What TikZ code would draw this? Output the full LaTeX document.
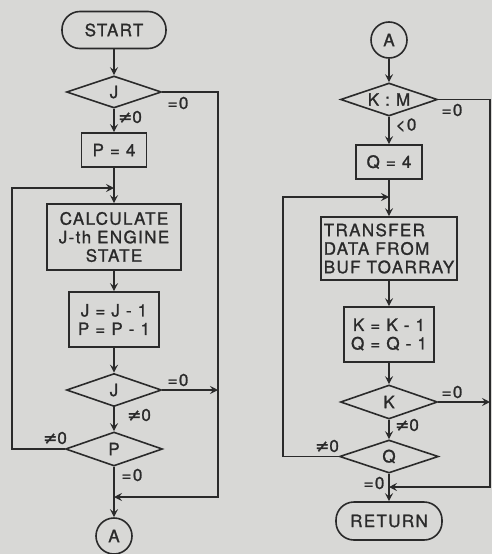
\documentclass[tikz,border=0pt]{standalone}
\usepackage{fontspec}
\setmainfont[LetterSpace=8,FakeBold=1.2]{TeX Gyre Heros}
\newfontfamily\neqfont[FakeBold=1.2]{DejaVu Sans}
\usepackage{tikz}
\usetikzlibrary{arrows.meta,shapes.geometric,calc}
\definecolor{paper}{HTML}{D8D8D6}
\definecolor{ink}{HTML}{2A2A2A}
\newcommand{\flowfont}{\fontsize{17}{18.5}\selectfont}
\newcommand{\nzero}{{\neqfont ≠}0}
\tikzset{wire/.style={draw=ink,line width=1.6pt}, link/.style={wire,-{Stealth[length=8pt,width=8pt,inset=3pt]}},
  termbox/.style={wire,rectangle,rounded corners=18pt,minimum width=104pt,minimum height=37pt,text=ink,font=\flowfont},
  procbox/.style={wire,rectangle,align=center,inner sep=2pt,text=ink,font=\flowfont},
  testbox/.style={wire,diamond,aspect=3,inner sep=0pt,text=ink,font=\flowfont},
  joint/.style={wire,circle,minimum size=36pt,inner sep=0pt,text=ink,font=\flowfont},
  cond/.style={inner sep=0pt,text=ink,font=\flowfont}}

\begin{document}
\begin{tikzpicture}[x=1pt,y=-1pt]
\fill[paper] (0,0) rectangle (492,554);
\useasboundingbox (0,0) rectangle (492,554);
\node[termbox] (start) at (114,30) {START};
\node[testbox,minimum width=95pt,minimum height=32pt] (tj1) at (114,92) {J};
\node[procbox,minimum width=65pt,minimum height=34pt] (p4) at (114,150) {P = 4};
\node[procbox,minimum width=134pt,minimum height=66pt] (calc) at (114,237) {CALCULATE\\J-th ENGINE\\STATE};
\node[procbox,minimum width=90pt,minimum height=55pt] (jpdec) at (114,319.5) {J = J - 1\\P = P - 1};
\node[testbox,minimum width=95pt,minimum height=33pt] (tj2) at (114,390) {J};
\node[testbox,minimum width=97pt,minimum height=34pt] (tp) at (114,449) {P};
\node[joint] (outA) at (114,536) {A};
\coordinate (loopL) at (114,188);
\coordinate (mergeL) at (114,497);
\coordinate (busL) at (218,390);
\draw[link] (start) -- (tj1);
\draw[link] (tj1) -- (p4);
\draw[link] (p4) -- (calc);
\draw[link] (calc) -- (jpdec);
\draw[link] (jpdec) -- (tj2);
\draw[link] (tj2.east) -- (busL);
\draw[link] (tj2) -- (tp);
\draw[link] (tp) -- (outA);
\draw[link] (tp.west) -- (12,449) |- (loopL);
\draw[link] (tj1.east) -- (tj1.east -| busL) -- (busL |- mergeL) -- (mergeL);
\node[cond] (c1) at (130,117) {\nzero};
\node[cond] (c2) at (178,103) {=0};
\node[cond] (c3) at (178,380) {=0};
\node[cond] (c4) at (139,415) {\nzero};
\node[cond] (c5) at (55,438) {\nzero};
\node[cond] (c6) at (132,475) {=0};
\node[joint] (inA) at (389,40) {A};
\node[testbox,minimum width=97pt,minimum height=33pt] (tkm) at (389,99.5) {K : M};
\node[procbox,minimum width=66pt,minimum height=34pt] (q4) at (389,162) {Q = 4};
\node[procbox,minimum width=136pt,minimum height=63pt,align=left] (xfer) at (389,248.5) {TRANSFER\\DATA FROM\\BUF TO\kern1pt ARRAY};
\node[procbox,minimum width=90pt,minimum height=55pt] (kqdec) at (389,334.5) {K = K - 1\\Q = Q - 1};
\node[testbox,minimum width=97pt,minimum height=34pt] (tk) at (389,402) {K};
\node[testbox,minimum width=99pt,minimum height=33pt] (tq) at (389,456.5) {Q};
\node[termbox,minimum width=106pt,minimum height=38pt] (ret) at (389,521) {RETURN};
\coordinate (loopR) at (389,197);
\coordinate (mergeR) at (389,487);
\coordinate (busR) at (490,402);
\draw[link] (inA) -- (tkm);
\draw[link] (tkm) -- (q4);
\draw[link] (q4) -- (xfer);
\draw[link] (xfer) -- (kqdec);
\draw[link] (kqdec) -- (tk);
\draw[link] (tk.east) -- (busR);
\draw[link] (tk) -- (tq);
\draw[link] (tq) -- (ret);
\draw[link] (tq.west) -- (283,456.5) |- (loopR);
\draw[link] (tkm.east) -- (tkm.east -| busR) -- (busR |- mergeR) -- (mergeR);
\node[cond] (c7) at (406,125) {<0};
\node[cond] (c8) at (452,110) {=0};
\node[cond] (c9) at (452,392) {=0};
\node[cond] (c10) at (407,425) {\nzero};
\node[cond] (c11) at (327,446) {\nzero};
\node[cond] (c12) at (374,483) {=0};
\end{tikzpicture}
\end{document}
